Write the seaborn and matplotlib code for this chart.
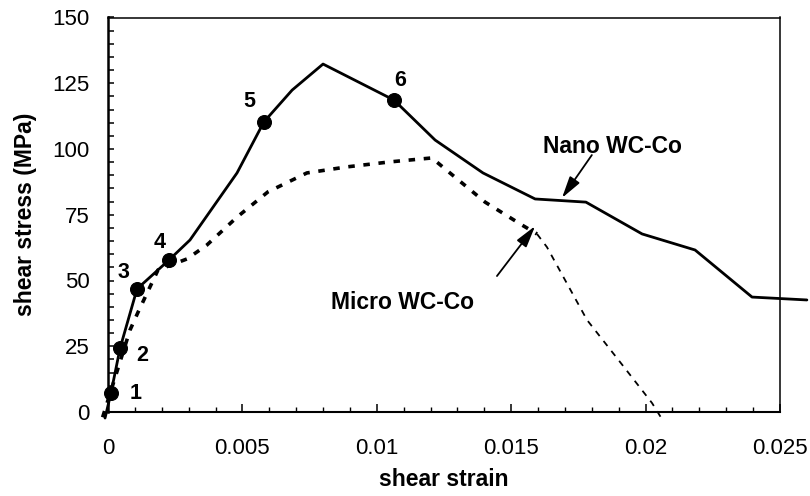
import matplotlib
matplotlib.use("Agg")
import matplotlib.pyplot as plt
from matplotlib.ticker import MultipleLocator
import seaborn as sns
import pandas as pd

# ---- data ----
nano_strain = [-0.00011, 0.00011, 0.00045, 0.00108, 0.00227, 0.00305, 0.0048, 0.0058,
               0.00685, 0.0080, 0.01064, 0.01217, 0.01395, 0.01589, 0.01778, 0.01987,
               0.02184, 0.02396, 0.0260]
nano_stress = [-2.3, 7.2, 24.3, 46.8, 57.8, 65.4, 90.9, 110.3,
               122.4, 132.3, 118.6, 103.4, 90.9, 81.0, 79.8, 67.7,
               61.6, 43.7, 42.6]
marked_idx = [1, 2, 3, 4, 7, 10]
marker_labels = ["1", "2", "3", "4", "5", "6"]
label_strain = [0.00101, 0.00129, 0.00056, 0.00193, 0.00525, 0.01086]
label_stress = [7.2, 21.3, 53.2, 64.6, 117.9, 125.9]

micro_strain = [-0.0002, 0.00082, 0.00112, 0.00186, 0.00294, 0.00368, 0.0048, 0.00595,
                0.0074, 0.00889, 0.01049, 0.01205, 0.01272, 0.01403, 0.0154, 0.01596]
micro_stress = [-2.0, 31.2, 38.0, 54.0, 58.2, 63.5, 74.1, 83.7,
                90.9, 93.2, 95.1, 96.6, 90.9, 79.8, 71.1, 67.7]
micro_tail_strain = [0.01596, 0.01633, 0.01782, 0.01905, 0.02024, 0.02061]
micro_tail_stress = [67.7, 62.7, 35.0, 19.0, 3.4, -2.7]

x_ticks = [0, 0.005, 0.01, 0.015, 0.02, 0.025]
x_tick_labels = ["0", "0.005", "0.01", "0.015", "0.02", "0.025"]
y_ticks = [0, 25, 50, 75, 100, 125, 150]

sns.set_theme(style="white")
plt.rcParams["font.family"] = ["Liberation Sans", "DejaVu Sans"]
plt.rcParams.update({"text.color": "black", "axes.labelcolor": "black",
                     "xtick.color": "black", "ytick.color": "black"})

fig = plt.figure(figsize=(8.1, 4.96), dpi=100)
ax = fig.add_axes([108 / 810, 84 / 496, 672 / 810, 394.5 / 496])

nano = pd.DataFrame({"strain": nano_strain, "stress": nano_stress})
micro = pd.DataFrame({"strain": micro_strain, "stress": micro_stress})
micro_tail = pd.DataFrame({"strain": micro_tail_strain, "stress": micro_tail_stress})
marks = nano.iloc[marked_idx]

sns.lineplot(data=micro, x="strain", y="stress", sort=False, ax=ax, color="black",
             lw=2.6, clip_on=False)
ax.lines[-1].set_dashes((1.8, 2.4))
sns.lineplot(data=micro_tail, x="strain", y="stress", sort=False, ax=ax, color="black",
             lw=1.3, clip_on=False)
ax.lines[-1].set_dashes((3.5, 3.5))
sns.lineplot(data=nano, x="strain", y="stress", sort=False, ax=ax, color="black",
             lw=2.0, clip_on=False)
sns.scatterplot(data=marks, x="strain", y="stress", ax=ax, color="black", s=100,
                edgecolor="black", zorder=5, clip_on=False)

for t, xs, ys in zip(marker_labels, label_strain, label_stress):
    ax.text(xs, ys, t, fontsize=15.5, fontweight="bold", ha="center", va="center")

ax.text(0.01875, 100.8, "Nano WC-Co", fontsize=16.5, fontweight="bold", ha="center", va="center")
ax.text(0.01094, 41.6, "Micro WC-Co", fontsize=16.5, fontweight="bold", ha="center", va="center")

arrow_kw = dict(arrowstyle="-|>,head_length=1.1,head_width=0.3", color="black", lw=1.3,
                shrinkA=0, shrinkB=0)
ax.annotate("", xy=(0.01689, 81.4), xytext=(0.0180, 97.7), arrowprops=arrow_kw)
ax.annotate("", xy=(0.01589, 70.7), xytext=(0.01447, 51.7), arrowprops=arrow_kw)

ax.set_xlim(0, 0.025)
ax.set_ylim(0, 150)
ax.set_xticks(x_ticks)
ax.set_xticklabels(x_tick_labels)
ax.set_yticks(y_ticks)
ax.xaxis.set_minor_locator(MultipleLocator(0.001))
ax.yaxis.set_minor_locator(MultipleLocator(5))
ax.tick_params(axis="x", which="major", direction="in", length=6, width=1.1,
               labelsize=16, pad=19, bottom=True, top=False)
ax.tick_params(axis="x", which="minor", direction="in", length=3.5, width=1.0,
               bottom=True, top=False)
ax.tick_params(axis="y", which="both", direction="in", length=4.3, width=1.1,
               labelsize=16, pad=13, left=True, right=False)
for sp in ax.spines.values():
    sp.set_color("black")
    sp.set_linewidth(1.1)
ax.spines["left"].set_linewidth(1.8)
ax.spines["bottom"].set_linewidth(1.5)

ax.set_xlabel("shear strain", fontsize=16.5, fontweight="bold", labelpad=6)
ax.set_ylabel("shear stress (MPa)", fontsize=16.5, fontweight="bold", labelpad=11)
ax.grid(False)

fig.savefig("out.png", dpi=100)
